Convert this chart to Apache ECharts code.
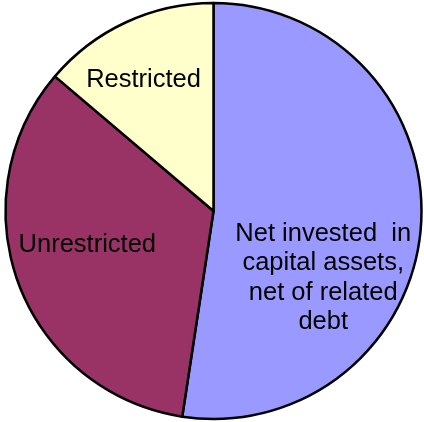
<!DOCTYPE html>
<html>
<head>
<meta charset="utf-8">
<script src="https://cdn.jsdelivr.net/npm/echarts@6/dist/echarts.min.js"></script>
<style>
  html, body { margin: 0; padding: 0; background: #ffffff; }
  #chart { width: 424px; height: 422px; }
</style>
</head>
<body>
<div id="chart"></div>
<script>
// Net position components (share of total, %)
const categories = [
  'Net invested  in\ncapital assets,\nnet of related\ndebt',
  'Unrestricted',
  'Restricted'
];
const values = [52.4, 33.8, 13.8];
const colors = ['#9999FF', '#993366', '#FFFFCC'];

// Nudges applied to each slice label from its default inner position
const labelNudge = [
  { dx: 3, dy: 59 },
  { dx: -26, dy: -4 },
  { dx: -25, dy: -34 }
];

const chart = echarts.init(document.getElementById('chart'), null, { renderer: 'canvas' });

chart.setOption({
  animation: false,
  backgroundColor: '#ffffff',
  series: [{
    type: 'pie',
    center: [213.5, 211],
    radius: 208,
    startAngle: 90,
    clockwise: true,
    silent: true,
    emphasis: { disabled: true },
    itemStyle: { borderColor: '#000000', borderWidth: 2.5 },
    label: {
      show: true,
      position: 'inner',
      color: '#000000',
      fontFamily: 'Liberation Sans, Arial, sans-serif',
      fontSize: 25.5,
      lineHeight: 29.5,
      align: 'center',
      formatter: p => p.name
    },
    labelLine: { show: false },
    labelLayout: p => labelNudge[p.dataIndex],
    data: categories.map((name, i) => ({
      name: name,
      value: values[i],
      itemStyle: { color: colors[i] }
    }))
  }]
});
</script>
</body>
</html>
